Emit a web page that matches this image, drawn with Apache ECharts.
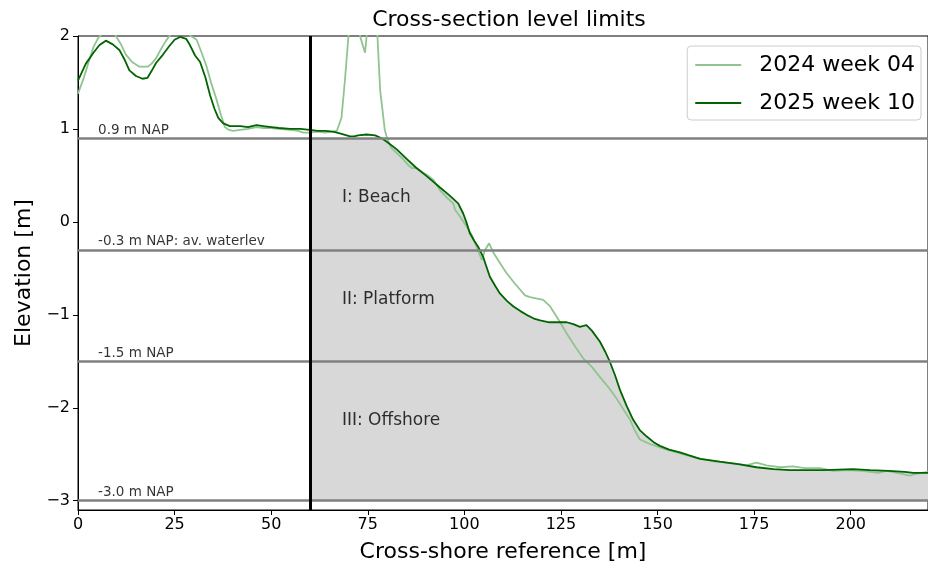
<!DOCTYPE html>
<html>
<head>
<meta charset="utf-8">
<title>Cross-section level limits</title>
<script src="https://cdn.jsdelivr.net/npm/echarts@6/dist/echarts.min.js"></script>
<style>
  html, body { margin: 0; padding: 0; background: #fff; }
  #chart { width: 928px; height: 572px; }
</style>
</head>
<body>
<div id="chart"></div>
<script>
// Cross-shore profiles: distance along the transect [m] and elevation [m NAP]
const x2024 = [0, 1.5, 2.9, 4, 5.1, 6.5, 8, 9.5, 11, 12.4, 14, 15.9, 18, 19, 20.2, 21.5, 22.8, 24, 25.5, 27,
  28.3, 29.2, 30.7, 32, 33.3, 34.5, 35.9, 37, 38, 39, 40.2, 42, 44, 46.2, 48, 50, 52, 55, 57, 58.3,
  60, 62, 64, 66, 67, 68.2, 69.1, 70, 70.6, 72, 73, 73.7, 74.3, 74.7, 75.5, 77, 77.5, 78.2, 79.4, 80,
  81, 82.5, 84, 85.5, 86.4, 87.6, 89, 90.5, 92, 93.7, 95.5, 97.1, 97.6, 99, 100.6, 102, 103.2, 104.5, 105.4, 106.4,
  107.5, 109, 110.9, 113, 115.7, 117, 120.4, 122.2, 123.9, 126.5, 128.5, 130.8, 133, 135.1, 137.3, 139.4, 141.2, 142.9, 144.2, 145.4,
  148, 151.5, 155.8, 160, 165, 170, 173, 175.6, 178.2, 181.7, 185.1, 188, 192, 195.5, 198.9, 203, 207.1, 209.3, 212, 215.3,
  217, 220];
const z2024 = [1.38, 1.55, 1.74, 1.88, 1.97, 2.04, 2.06, 2.02, 1.92, 1.80, 1.72, 1.67, 1.67, 1.70, 1.76, 1.86, 1.95, 2.02, 2.08, 2.08,
  2.03, 2.00, 1.96, 1.82, 1.67, 1.49, 1.31, 1.15, 1.02, 0.99, 0.98, 0.99, 1.00, 1.02, 1.01, 1.01, 1.00, 0.99, 0.98, 0.96,
  0.96, 0.97, 0.96, 0.97, 0.98, 1.12, 1.53, 2.00, 2.30, 2.35, 2.00, 1.90, 1.82, 2.00, 2.40, 2.40, 2.00, 1.42, 0.99, 0.90,
  0.80, 0.74, 0.68, 0.61, 0.58, 0.58, 0.54, 0.50, 0.45, 0.34, 0.26, 0.20, 0.13, 0.05, -0.05, -0.15, -0.27, -0.41, -0.30, -0.23,
  -0.33, -0.43, -0.55, -0.66, -0.79, -0.81, -0.84, -0.91, -1.02, -1.20, -1.33, -1.47, -1.56, -1.67, -1.78, -1.90, -2.02, -2.13, -2.25, -2.34,
  -2.39, -2.44, -2.49, -2.54, -2.58, -2.60, -2.62, -2.59, -2.62, -2.64, -2.63, -2.65, -2.65, -2.68, -2.67, -2.68, -2.70, -2.68, -2.70, -2.73,
  -2.71, -2.69];

const x2025 = [0, 2, 4, 5.5, 7.2, 9, 10.7, 12, 13.3, 15, 16.7, 18, 19, 20.2, 22, 23.6, 25, 26.4, 28, 29,
  30.3, 31.6, 33, 34.2, 35.3, 36.3, 37.6, 39.3, 42, 44, 46.2, 48, 50, 52, 54.9, 57.5, 60, 62, 64, 66,
  68, 70.4, 71.5, 72.5, 74.7, 76.9, 78.6, 80, 82.5, 85, 87.6, 90, 92, 93.7, 96, 98.4, 99.7, 100.5, 101.4, 102.5,
  103.6, 104.9, 105.7, 106.6, 108, 109.2, 111, 112.7, 114.5, 116.1, 118, 119.6, 122, 124, 126.5, 128.2, 129.9, 130.8, 131.6, 133,
  135.1, 136.5, 137.7, 139, 140.3, 142, 143.7, 145.4, 147.2, 149, 150.6, 153, 155.8, 158, 161, 166.1, 171.3, 175.6, 180, 184.3,
  192.9, 200.6, 205, 209.8, 214, 216.2, 220];
const z2025 = [1.52, 1.70, 1.82, 1.90, 1.95, 1.91, 1.85, 1.75, 1.63, 1.57, 1.54, 1.55, 1.62, 1.71, 1.80, 1.89, 1.96, 1.99, 1.97, 1.90,
  1.79, 1.72, 1.55, 1.36, 1.22, 1.12, 1.06, 1.03, 1.03, 1.02, 1.04, 1.03, 1.02, 1.01, 1.00, 1.00, 0.99, 0.98, 0.98, 0.97,
  0.95, 0.92, 0.92, 0.93, 0.94, 0.93, 0.90, 0.86, 0.78, 0.68, 0.58, 0.50, 0.43, 0.37, 0.29, 0.20, 0.09, 0.00, -0.12, -0.20,
  -0.27, -0.38, -0.48, -0.59, -0.69, -0.77, -0.85, -0.91, -0.96, -1.00, -1.04, -1.06, -1.08, -1.08, -1.08, -1.10, -1.13, -1.12, -1.11, -1.17,
  -1.29, -1.40, -1.51, -1.65, -1.81, -1.98, -2.13, -2.24, -2.31, -2.37, -2.41, -2.45, -2.48, -2.51, -2.55, -2.58, -2.61, -2.64, -2.66, -2.67,
  -2.67, -2.66, -2.67, -2.68, -2.69, -2.70, -2.70];

// Level limits [m NAP] and their captions
const levels = [0.9, -0.3, -1.5, -3.0];
const levelNames = ['0.9 m NAP', '-0.3 m NAP: av. waterlev', '-1.5 m NAP', '-3.0 m NAP'];

// Landward boundary of the analysed zone [m]
const boundaryX = 60;

// Zone captions and where they sit
const zoneNames = ['I: Beach', 'II: Platform', 'III: Offshore'];
const zoneX = [68.3, 68.3, 68.3];
const zoneY = [0.26, -0.84, -2.14];

// Axis tick values
const xTicks = [0, 25, 50, 75, 100, 125, 150, 175, 200];
const yTicks = [-3, -2, -1, 0, 1, 2];

const FONT = 'DejaVu Sans';
const pairs = (xs, ys) => xs.map((v, i) => [v, ys[i]]);

// Shaded zone: seaward of the boundary, below the top level and the latest profile
const fillData = x2025
  .map((v, i) => [v, Math.min(z2025[i], levels[0])])
  .filter(p => p[0] >= boundaryX);

const levelNoteX = 5.2;

const option = {
  animation: false,
  backgroundColor: '#fff',
  textStyle: { fontFamily: FONT },
  title: {
    text: 'Cross-section level limits',
    left: 504,
    top: 4,
    textAlign: 'center',
    textStyle: { fontFamily: FONT, fontSize: 22, fontWeight: 'normal', color: '#000' }
  },
  legend: {
    orient: 'vertical',
    right: 7,
    top: 46,
    padding: [6, 6, 4, 8],
    itemGap: 12,
    itemWidth: 46,
    itemHeight: 2,
    icon: 'rect',
    borderColor: '#cccccc',
    borderWidth: 1,
    borderRadius: 4,
    backgroundColor: 'rgba(255,255,255,0.8)',
    textStyle: { fontFamily: FONT, fontSize: 22, lineHeight: 26, color: '#000', padding: [0, 0, 0, 13] },
    data: ['2024 week 04', '2025 week 10']
  },
  grid: {
    left: 78, right: 0, top: 36, bottom: 62,
    show: true, borderColor: '#000', borderWidth: 1, backgroundColor: 'transparent'
  },
  xAxis: {
    type: 'value',
    min: 0, max: 220,
    name: 'Cross-shore reference [m]',
    nameLocation: 'middle',
    nameGap: 31,
    nameTextStyle: { fontFamily: FONT, fontSize: 22, color: '#000' },
    axisLine: { show: true, onZero: false, lineStyle: { color: '#000', width: 1 } },
    axisTick: { show: true, length: 5, lineStyle: { color: '#000' }, customValues: xTicks },
    axisLabel: { fontFamily: FONT, fontSize: 16, color: '#000', margin: 7, customValues: xTicks },
    splitLine: { show: false }
  },
  yAxis: {
    type: 'value',
    min: -3.1, max: 2,
    name: 'Elevation [m]',
    nameLocation: 'middle',
    nameGap: 43,
    nameTextStyle: { fontFamily: FONT, fontSize: 22, color: '#000' },
    axisLine: { show: true, onZero: false, lineStyle: { color: '#000', width: 1 } },
    axisTick: { show: true, length: 5, lineStyle: { color: '#000' }, customValues: yTicks },
    axisLabel: {
      fontFamily: FONT, fontSize: 16, color: '#000', margin: 8, customValues: yTicks,
      formatter: v => (v < 0 ? '\u2212' + Math.abs(v) : String(v))
    },
    splitLine: { show: false }
  },
  series: [
    {
      name: 'zone fill',
      type: 'line',
      data: fillData,
      symbol: 'none',
      lineStyle: { width: 0 },
      areaStyle: { color: '#d8d8d8', opacity: 1, origin: levels[levels.length - 1] },
      silent: true,
      z: 1
    },
    {
      name: '2024 week 04',
      type: 'line',
      data: pairs(x2024, z2024),
      symbol: 'none',
      color: '#90c490',
      lineStyle: { color: '#90c490', width: 1.8 },
      z: 3
    },
    {
      name: '2025 week 10',
      type: 'line',
      data: pairs(x2025, z2025),
      symbol: 'none',
      color: '#006400',
      lineStyle: { color: '#006400', width: 1.8 },
      z: 4
    },
    {
      name: 'levels',
      type: 'line',
      data: [],
      silent: true,
      z: 2,
      markLine: {
        silent: true,
        symbol: ['none', 'none'],
        label: { show: false },
        lineStyle: { color: '#808080', width: 2.6, type: 'solid' },
        data: levels.map(v => ({ yAxis: v }))
      }
    },
    {
      name: 'boundary',
      type: 'line',
      data: [],
      silent: true,
      z: 5,
      markLine: {
        silent: true,
        symbol: ['none', 'none'],
        label: { show: false },
        lineStyle: { color: '#000', width: 3, type: 'solid' },
        data: [{ xAxis: boundaryX }]
      }
    },
    {
      name: 'level notes',
      type: 'scatter',
      symbolSize: 0,
      silent: true,
      z: 6,
      data: levels.map((v, i) => ({ value: [levelNoteX, v], name: levelNames[i] })),
      label: {
        show: true,
        position: 'top',
        distance: 1,
        align: 'left',
        formatter: p => p.name,
        fontFamily: FONT,
        fontSize: 13.5,
        color: '#000'
      }
    },
    {
      name: 'zone notes',
      type: 'scatter',
      symbolSize: 0,
      silent: true,
      z: 6,
      data: zoneNames.map((n, i) => ({ value: [zoneX[i], zoneY[i]], name: n })),
      label: {
        show: true,
        position: 'right',
        distance: 0,
        formatter: p => p.name,
        fontFamily: FONT,
        fontSize: 17,
        color: '#000'
      }
    }
  ]
};

const chart = echarts.init(document.getElementById('chart'), null, { renderer: 'canvas' });
chart.setOption(option);
</script>
</body>
</html>
